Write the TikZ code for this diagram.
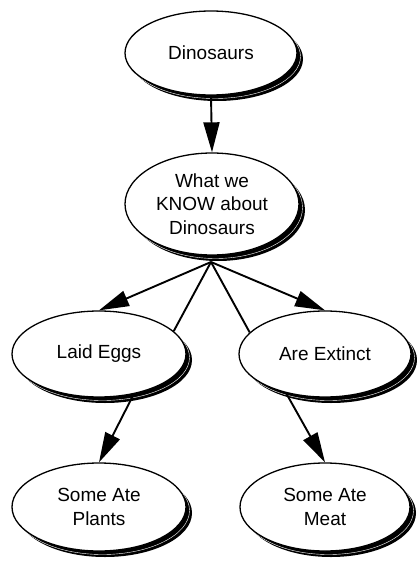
\documentclass[tikz,border=0pt]{standalone}
\usepackage{fontspec}
\setmainfont{Liberation Sans}
\usetikzlibrary{shapes.geometric,arrows.meta,shadows}
\begin{document}
\begin{tikzpicture}[x=1pt,y=-1pt,
  concept/.style={ellipse, draw=black, line width=1.3pt, fill=white, inner sep=0pt,
    align=center, font=\fontsize{19}{23.5}\selectfont,
    general shadow={fill=black, shadow xshift=6pt, shadow yshift=-6pt},
    general shadow={draw=white, line width=0.4pt, shadow xshift=3.5pt, shadow yshift=-3.5pt}},
  link/.style={line width=1.9pt, draw=black},
  arr/.style={link, -{Triangle[length=30pt,width=16pt]}}]
\useasboundingbox (0,0) rectangle (416,561);
\node[concept, minimum width=172pt, minimum height=84pt] (dino) at (211,53) {Dinosaurs};
\node[concept, minimum width=174pt, minimum height=102pt] (know) at (212,204) {What we\\KNOW about\\Dinosaurs};
\node[concept, minimum width=174pt, minimum height=86pt] (eggs) at (99,354) {Laid Eggs};
\node[concept, minimum width=172pt, minimum height=86pt] (extinct) at (325,354) {Are Extinct};
\node[concept, minimum width=174pt, minimum height=88pt] (plants) at (99,507) {Some Ate\\Plants};
\node[concept, minimum width=170pt, minimum height=88pt] (meat) at (325,507) {Some Ate\\Meat};
\coordinate (kb) at (211,262);
\draw[arr] (dino.south) -- (know.north);
\draw[arr] (kb) -- (eggs.north);
\draw[link] (kb) -- (eggs.17);
\draw[arr] (kb) -- (extinct.north);
\draw[link] (kb) -- (extinct.164);
\draw[arr] (eggs.-49) -- (plants.north);
\draw[arr] (extinct.-135) -- (meat.north);
\end{tikzpicture}
\end{document}
